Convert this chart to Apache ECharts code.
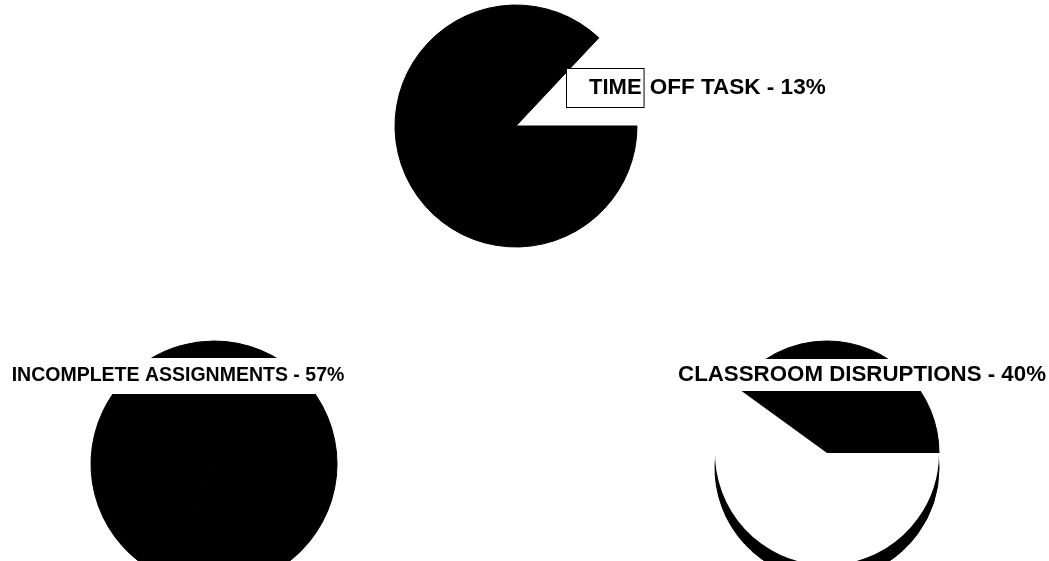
<!DOCTYPE html>
<html><head><meta charset="utf-8">
<script src="https://cdn.jsdelivr.net/npm/echarts@6/dist/echarts.min.js"></script>
<style>html,body{margin:0;padding:0;background:#fff}#c{width:1049px;height:561px}</style>
</head><body><div id="c"></div>
<script>
// Data
const categories = ['TIME OFF TASK', 'INCOMPLETE ASSIGNMENTS', 'CLASSROOM DISRUPTIONS'];
const percents = [13, 57, 40];

const FONT = "'Liberation Sans', Arial, Helvetica, sans-serif";
const chart = echarts.init(document.getElementById('c'), null, { renderer: 'canvas' });

function slices(p, colA, colB) {
  return [
    { name: 'share', value: p, itemStyle: { color: colA, borderColor: colA, borderWidth: colA === '#000000' ? 1 : 0 } },
    { name: 'rest', value: 100 - p, itemStyle: { color: colB, borderColor: colB, borderWidth: colB === '#000000' ? 1 : 0 } }
  ];
}
const base = {
  type: 'pie', silent: true, label: { show: false }, labelLine: { show: false },
  emphasis: { disabled: true }
};

const option = {
  backgroundColor: '#ffffff',
  animation: false,
  series: [
    Object.assign({}, base, { center: [516, 126], radius: 121, startAngle: 0, clockwise: false,
      data: slices(percents[0], '#ffffff', '#000000') }),
    Object.assign({}, base, { center: [214, 464], radius: 123, startAngle: 90, clockwise: true,
      data: slices(percents[1], '#000000', '#000000') }),
    // 3D edge of the third pie
    Object.assign({}, base, { center: [827, 468], radius: 112, startAngle: 0, clockwise: false,
      data: slices(percents[2], '#000000', '#000000') }),
    Object.assign({}, base, { center: [827, 453], radius: 112, startAngle: 0, clockwise: false,
      data: slices(percents[2], '#000000', '#ffffff') })
  ],
  graphic: [
    { type: 'text', z: 100, x: 567, y: 88,
      style: {
        text: '{b|' + categories[0].split(' ')[0] + '}{n| ' + categories[0].split(' ').slice(1).join(' ') + ' - ' + percents[0] + '%}',
        verticalAlign: 'middle', align: 'left',
        rich: {
          b: { fontFamily: FONT, fontSize: 22, fontWeight: 'bold', fill: '#000', backgroundColor: '#fff',
               borderColor: '#000', borderWidth: 1, padding: [8, 2, 8, 22] },
          n: { fontFamily: FONT, fontSize: 22.5, fontWeight: 'bold', fill: '#000' }
        }
      } },
    { type: 'text', z: 100, x: 178, y: 376,
      style: { text: categories[1] + ' - ' + percents[1] + '%', fontFamily: FONT, fontSize: 19.5, fontWeight: 'bold',
        fill: '#000', align: 'center', verticalAlign: 'middle', backgroundColor: '#fff', padding: [8, 4] } },
    { type: 'text', z: 100, x: 862, y: 375,
      style: { text: categories[2] + ' - ' + percents[2] + '%', fontFamily: FONT, fontSize: 22.3, fontWeight: 'bold',
        fill: '#000', align: 'center', verticalAlign: 'middle', backgroundColor: '#fff', padding: [5, 4] } }
  ]
};
chart.setOption(option);
</script></body></html>
